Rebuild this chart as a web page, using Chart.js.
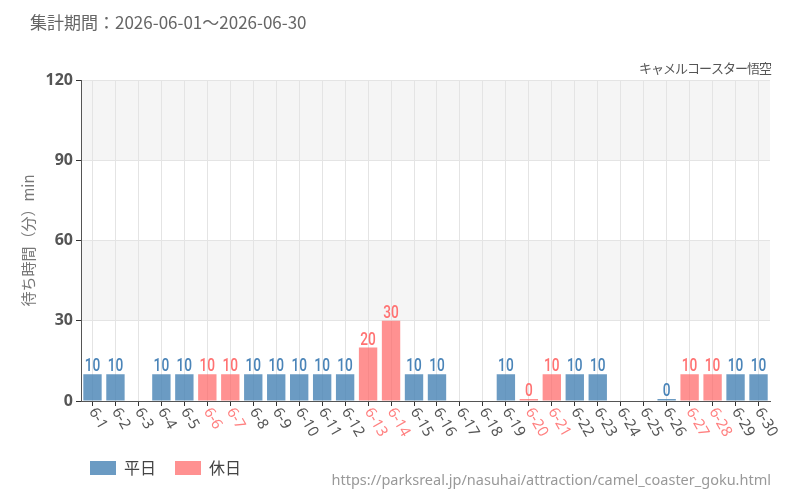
<!DOCTYPE html>
<html lang="ja">
<head>
<meta charset="utf-8">
<script src="https://cdn.jsdelivr.net/npm/chart.js@4.4.0/dist/chart.umd.min.js"></script>
<style>
  html, body { margin: 0; padding: 0; background: #fff; }
  #wrap { width: 800px; height: 500px; }
</style>
</head>
<body>
<div id="wrap"><canvas id="chart" width="800" height="500"></canvas></div>
<script>
// 日付ラベル
const days = ['6-1','6-2','6-3','6-4','6-5','6-6','6-7','6-8','6-9','6-10',
              '6-11','6-12','6-13','6-14','6-15','6-16','6-17','6-18','6-19','6-20',
              '6-21','6-22','6-23','6-24','6-25','6-26','6-27','6-28','6-29','6-30'];
// 土日
const holidayFlags = [false,false,false,false,false,true,true,false,false,false,
                      false,false,true,true,false,false,false,false,false,true,
                      true,false,false,false,false,false,true,true,false,false];
// 平日 待ち時間（分）
const weekdayWait = [10,10,null,10,10,null,null,10,10,10,
                     10,10,null,null,10,10,null,null,10,null,
                     null,10,10,null,null,0,null,null,10,10];
// 休日 待ち時間（分）
const holidayWait = [null,null,null,null,null,10,10,null,null,null,
                     null,null,20,30,null,null,null,null,null,0,
                     10,null,null,null,null,null,10,10,null,null];
const yTicks = [0, 30, 60, 90, 120];

const blueBar = 'rgba(70,130,180,0.8)';
const redBar = 'rgba(255,99,99,0.7)';
const blueText = '#4a84b8';
const redText = '#ff7272';
const jpFont = '"Noto Sans CJK JP", "Noto Sans", sans-serif';

// 背景の縞
const bandPlugin = {
  id: 'bands',
  beforeDraw(chart) {
    const {ctx, chartArea, scales} = chart;
    ctx.save();
    ctx.fillStyle = '#fff';
    ctx.fillRect(0, 0, chart.width, chart.height);
    ctx.fillStyle = '#f5f5f5';
    for (let i = 0; i < yTicks.length - 1; i++) {
      if (i % 2 === 1) {
        const top = scales.y.getPixelForValue(yTicks[i + 1]);
        const bottom = scales.y.getPixelForValue(yTicks[i]);
        ctx.fillRect(chartArea.left, top, chartArea.right - chartArea.left, bottom - top);
      }
    }
    ctx.restore();
  },
  afterLayout(chart) {
    chart.legend.left = 71;
  }
};

// 棒の上の数値（細めの数字）
const valuePlugin = {
  id: 'values',
  afterDatasetsDraw(chart) {
    const {ctx} = chart;
    ctx.save();
    ctx.font = '500 18px Roboto, sans-serif';
    ctx.textAlign = 'center';
    ctx.textBaseline = 'alphabetic';
    chart.data.datasets.forEach((ds, di) => {
      const meta = chart.getDatasetMeta(di);
      ctx.fillStyle = di === 0 ? blueText : redText;
      meta.data.forEach((bar, i) => {
        const v = ds.data[i];
        if (v === null || v === undefined) return;
        ctx.save();
        ctx.translate(bar.x, bar.y - 3);
        ctx.scale(0.76, 1);
        ctx.fillText(String(v), 0, 0);
        ctx.restore();
      });
    });
    ctx.restore();
  }
};

// 斜めの日付ラベルとタイトル類
const textPlugin = {
  id: 'texts',
  afterDraw(chart) {
    const {ctx, chartArea, scales} = chart;
    ctx.save();
    ctx.font = '15px "Noto Sans", sans-serif';
    ctx.textAlign = 'left';
    ctx.textBaseline = 'middle';
    days.forEach((d, i) => {
      const x = scales.x.getPixelForValue(i);
      ctx.save();
      ctx.translate(x, chartArea.bottom + 8);
      ctx.rotate(Math.PI / 3);
      ctx.fillStyle = holidayFlags[i] ? '#ff8080' : '#555';
      ctx.fillText(d, 0, 0);
      ctx.restore();
    });

    ctx.fillStyle = '#666';
    ctx.font = '17px ' + jpFont;
    ctx.textAlign = 'left';
    ctx.fillText('集計期間：2026-06-01～2026-06-30', 30, 23);

    ctx.fillStyle = '#555';
    ctx.font = '13px ' + jpFont;
    ctx.letterSpacing = '-1px';
    ctx.textAlign = 'right';
    ctx.fillText('キャメルコースター悟空', chartArea.right + 1, 68);
    ctx.letterSpacing = '0px';

    ctx.fillStyle = '#999';
    ctx.font = '14.5px "Noto Sans", sans-serif';
    ctx.fillText('https://parksreal.jp/nasuhai/attraction/camel_coaster_goku.html', 771, 481);
    ctx.restore();
  }
};

function createChart() {
  const ctx = document.getElementById('chart').getContext('2d');
  new Chart(ctx, {
    type: 'bar',
    data: {
      labels: days,
      datasets: [
        {
          label: '平日',
          data: weekdayWait,
          backgroundColor: blueBar,
          borderWidth: 0,
          minBarLength: 2
        },
        {
          label: '休日',
          data: holidayWait,
          backgroundColor: redBar,
          borderWidth: 0,
          minBarLength: 2
        }
      ]
    },
    options: {
      responsive: false,
      animation: false,
      layout: { padding: { top: 80, right: 30, bottom: 14, left: 0 } },
      datasets: { bar: { barPercentage: 1, categoryPercentage: 0.8 } },
      plugins: {
        legend: {
          position: 'bottom',
          align: 'start',
          labels: {
            boxWidth: 26,
            boxHeight: 14,
            padding: 19,
            color: '#444',
            font: { size: 16, family: jpFont }
          }
        },
        tooltip: { enabled: false }
      },
      scales: {
        x: {
          stacked: true,
          afterFit(scale) { scale.height = 40; },
          grid: { color: '#e4e4e4', offset: false, tickLength: 5, tickColor: '#333' },
          border: { color: '#555' },
          ticks: { display: false }
        },
        y: {
          stacked: true,
          min: 0,
          max: 120,
          afterFit(scale) { scale.width = 81; },
          ticks: {
            stepSize: 30,
            padding: 3,
            color: '#555',
            font: { size: 16, weight: 'bold', family: '"Noto Sans", sans-serif' }
          },
          grid: { color: '#e4e4e4', tickLength: 5, tickColor: '#333' },
          border: { color: '#555' },
          title: {
            display: true,
            text: '待ち時間（分）min',
            color: '#777',
            font: { size: 15, family: jpFont },
            padding: { top: 19, bottom: 0 }
          }
        }
      }
    },
    plugins: [bandPlugin, valuePlugin, textPlugin]
  });
}

createChart();
</script>
</body>
</html>
